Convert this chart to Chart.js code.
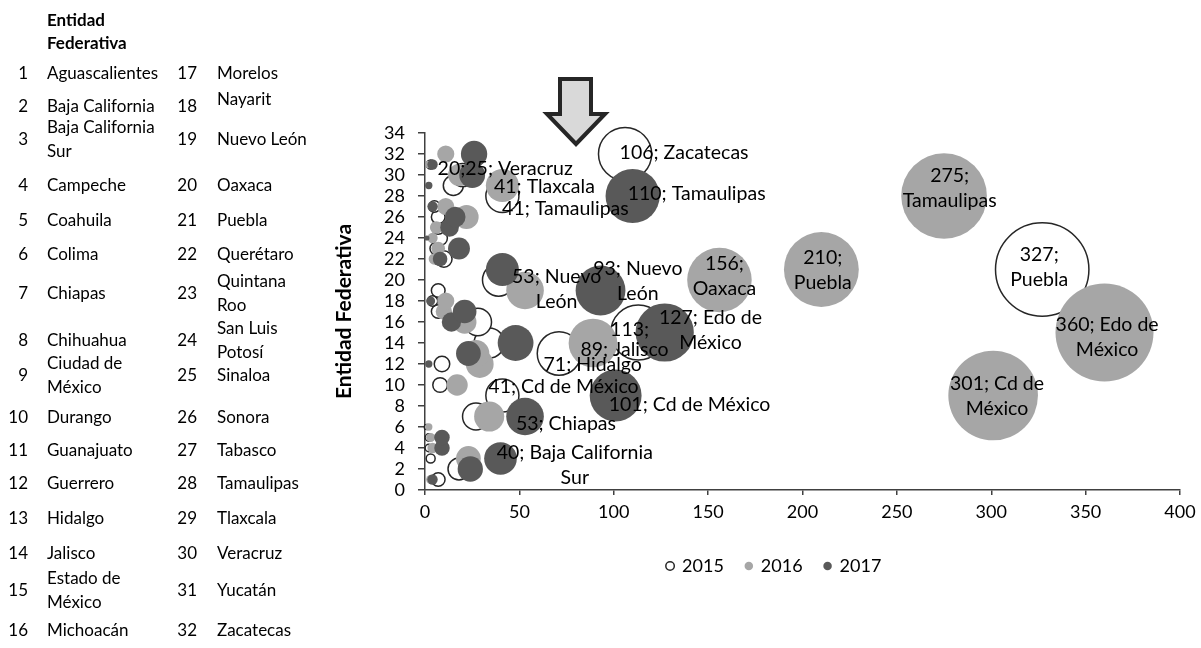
<!DOCTYPE html>
<html lang="es">
<head>
<meta charset="utf-8">
<title>Entidad Federativa 2015-2017</title>
<script src="https://cdn.jsdelivr.net/npm/chart.js@4.4.1/dist/chart.umd.min.js"></script>
<style>
  html, body { margin: 0; padding: 0; background: #ffffff; overflow: hidden; }
  body { width: 1201px; height: 648px; position: relative; font-family: Lato, "Noto Sans", sans-serif; color: #000; }
  #lienzo { position: absolute; left: 0; top: 0; width: 1229px; height: 648px; }
  #tabla { position: absolute; left: 0; top: 0; width: 320px; height: 648px; font-size: 17px; }
  #tabla div { position: absolute; transform: translateY(-50%); white-space: pre; line-height: 24px; }
  #tabla .num { text-align: right; width: 40px; }
  #tabla .cab { font-weight: bold; }
  #flecha { position: absolute; left: 0; top: 0; }
</style>
</head>
<body>
<div id="lienzo"><canvas id="grafica"></canvas></div>
<div id="tabla"></div>
<svg id="flecha" width="700" height="160">
  <polygon points="560,79 591,79 591,114 605,114 576,144 547,114 560,114"
           fill="#d9d9d9" stroke="#262626" stroke-width="4" stroke-linejoin="miter"/>
</svg>
<script>
// Entidades federativas, en el orden de su número (1-32)
const estados = [
  'Aguascalientes', 'Baja California', 'Baja California\nSur', 'Campeche',
  'Coahuila', 'Colima', 'Chiapas', 'Chihuahua',
  'Ciudad de\nMéxico', 'Durango', 'Guanajuato', 'Guerrero',
  'Hidalgo', 'Jalisco', 'Estado de\nMéxico', 'Michoacán',
  'Morelos', 'Nayarit', 'Nuevo León', 'Oaxaca',
  'Puebla', 'Querétaro', 'Quintana\nRoo', 'San Luis\nPotosí',
  'Sinaloa', 'Sonora', 'Tabasco', 'Tamaulipas',
  'Tlaxcala', 'Veracruz', 'Yucatán', 'Zacatecas'
];

// Casos por entidad (posición = número de entidad - 1)
const v2015 = [7, 18, 3, 2, 2, 1, 27, 0, 41, 8, 0, 9, 71, 34, 113, 28,
               7, 4, 7, 39, 327, 10, 6, 8, 7, 7, 5, 41, 15, 20, 3, 106];
const v2016 = [3, 0, 23, 4, 3, 2, 34, 0, 301, 17, 0, 29, 27, 89, 360, 21,
               10, 11, 53, 156, 210, 5, 7, 4, 6, 22, 11, 275, 41, 18, 2, 11];
const v2017 = [4, 24, 40, 9, 9, 0, 53, 0, 101, 0, 0, 2, 23, 48, 127, 14,
               21, 3, 93, 0, 41, 8, 18, 1, 13, 16, 4, 110, 2, 25, 4, 26];

const anios = ['2015', '2016', '2017'];
const series = { '2015': v2015, '2016': v2016, '2017': v2017 };

// Marcas de los ejes
const ticksX = [0, 50, 100, 150, 200, 250, 300, 350, 400];
const ticksY = [0, 2, 4, 6, 8, 10, 12, 14, 16, 18, 20, 22, 24, 26, 28, 30, 32, 34];

// Etiquetas de datos: [año, entidad, líneas, desplazamiento x, desplazamiento y]
// {v} = valor propio del punto; {2015}/{2017} = valor de ese año en la entidad
const etiquetas = [
  ['2015', 32, ['{v}; Zacatecas'], 59, -1],
  ['2017', 28, ['{v}; Tamaulipas'], 64, -2],
  ['2017', 30, ['{2015};{2017}; Veracruz'], 33, -6],
  ['2016', 29, ['{v}; Tlaxcala'], 42, 1.5],
  ['2015', 28, ['{v}; Tamaulipas'], 63, 12.6],
  ['2016', 19, ['{v}; Nuevo', 'León'], 31.6, -1.6],
  ['2017', 19, ['{v}; Nuevo', 'León'], 37.3, -9],
  ['2016', 20, ['{v};', 'Oaxaca'], 5, -3.5],
  ['2016', 21, ['{v};', 'Puebla'], 1.4, 0.7],
  ['2016', 28, ['{v};', 'Tamaulipas'], 5.6, -7.9],
  ['2015', 21, ['{v};', 'Puebla'], -3, -1.8],
  ['2016', 15, ['{v}; Edo de', 'México'], 2.6, 5.1],
  ['2016', 9, ['{v}; Cd de', 'México'], 3.9, 0.4],
  ['2017', 15, ['{v}; Edo de', 'México'], 45.7, -2.4],
  ['2015', 15, ['{v};'], -8.7, -2.4],
  ['2016', 14, ['{v}; Jalisco'], 31.5, 7.1],
  ['2015', 13, ['{v}; Hidalgo'], 33.7, 11.6],
  ['2015', 9, ['{v}; Cd de México'], 61.1, -8.7],
  ['2017', 9, ['{v}; Cd de México'], 73.9, 9.6],
  ['2017', 7, ['{v}; Chiapas'], 40.9, 6.9],
  ['2017', 3, ['{v}; Baja California', 'Sur'], 74.3, 7]
];

const FUENTE = 'Lato, "Noto Sans", sans-serif';
const NEGRO = '#000000';
const EJE = '#404040';

// Tabla de referencia de las entidades (dos columnas de 16)
const filasY = [72.7, 106, 139, 185, 220, 254, 293.3, 340, 375, 416.7, 450, 483.3, 518.3, 553.3, 590, 630];
const ajusteNombre = { 18: -7 };
(function construirTabla() {
  const tabla = document.getElementById('tabla');
  const agregar = (cls, texto, estilo) => {
    const d = document.createElement('div');
    d.className = cls;
    d.textContent = texto;
    Object.assign(d.style, estilo);
    tabla.appendChild(d);
  };
  agregar('cab', 'Entidad', { left: '47px', top: '20px' });
  agregar('cab', 'Federativa', { left: '47px', top: '43px' });
  estados.forEach((nombre, i) => {
    const n = i + 1;
    const col = i < 16 ? 0 : 1;
    const y = filasY[i % 16];
    const numDerecha = col === 0 ? 28 : 197;
    const nomIzq = col === 0 ? 47 : 217;
    agregar('num', String(n), { left: (numDerecha - 40) + 'px', top: y + 'px' });
    agregar('nom', nombre, { left: nomIzq + 'px', top: (y + (ajusteNombre[n] || 0)) + 'px' });
  });
})();

// Área de la burbuja proporcional al valor
const K_RADIO = 49 / Math.sqrt(360);
const puntos = (valores) => valores.map((v, i) => ({ x: v, y: i + 1, r: v > 0 ? K_RADIO * Math.sqrt(v) : 0 }));

const etiquetasPlugin = {
  id: 'etiquetasBurbujas',
  afterDatasetsDraw(chart) {
    const ctx = chart.ctx;
    ctx.save();
    ctx.font = '19.5px ' + FUENTE;
    ctx.fillStyle = NEGRO;
    ctx.textAlign = 'center';
    ctx.textBaseline = 'middle';
    const alto = 25;
    etiquetas.forEach(([anio, entidad, lineas, dx, dy]) => {
      const idx = anios.indexOf(anio);
      const el = chart.getDatasetMeta(idx).data[entidad - 1];
      const textos = lineas.map(t => t
        .replace('{v}', series[anio][entidad - 1])
        .replace(/\{(\d{4})\}/g, (m, a) => series[a][entidad - 1]));
      const y0 = el.y + dy - (textos.length - 1) * alto / 2;
      textos.forEach((t, k) => ctx.fillText(t, el.x + dx, y0 + k * alto));
    });
    ctx.restore();
  }
};

function dibujar() {
  const fuenteEje = { family: FUENTE, size: 18 };
  new Chart(document.getElementById('grafica'), {
    type: 'bubble',
    data: {
      datasets: [
        {
          label: anios[0], data: puntos(v2015), order: 3,
          backgroundColor: '#ffffff', borderColor: '#262626',
          borderWidth: (c) => (c.raw && c.raw.r > 0 ? 1.5 : 0)
        },
        {
          label: anios[1], data: puntos(v2016), order: 2,
          backgroundColor: '#a6a6a6', borderColor: '#a6a6a6', borderWidth: 0
        },
        {
          label: anios[2], data: puntos(v2017), order: 1,
          backgroundColor: '#595959', borderColor: '#595959', borderWidth: 0
        }
      ]
    },
    options: {
      responsive: true,
      maintainAspectRatio: false,
      animation: false,
      events: [],
      layout: { padding: { left: 332, right: 12.6, top: 133, bottom: 63 } },
      scales: {
        x: {
          type: 'linear', min: 0, max: 400,
          afterBuildTicks: (ax) => { ax.ticks = ticksX.map(v => ({ value: v })); },
          afterFit: (ax) => { ax.height = 45; },
          ticks: { font: fuenteEje, color: NEGRO, padding: 6, autoSkip: false, maxRotation: 0 },
          grid: { drawOnChartArea: false, drawTicks: true, tickLength: 5, color: EJE, lineWidth: 1.5 },
          border: { display: true, color: EJE, width: 1.5 }
        },
        y: {
          type: 'linear', min: 0, max: 34,
          afterBuildTicks: (ax) => { ax.ticks = ticksY.map(v => ({ value: v })); },
          afterFit: (ax) => { ax.width = 93; },
          ticks: { font: fuenteEje, color: NEGRO, padding: 13, autoSkip: false },
          grid: { drawOnChartArea: false, drawTicks: true, tickLength: 7, color: EJE, lineWidth: 1.5 },
          border: { display: true, color: EJE, width: 1.5 },
          title: {
            display: true, text: 'Entidad Federativa', color: NEGRO,
            font: { family: FUENTE, size: 21, weight: 'bold' },
            padding: { top: 0, bottom: 0 }
          }
        }
      },
      plugins: {
        legend: {
          position: 'bottom',
          labels: {
            usePointStyle: true, pointStyle: 'circle',
            boxWidth: 6, boxHeight: 6, padding: 22,
            font: fuenteEje, color: NEGRO,
            sort: (a, b) => a.datasetIndex - b.datasetIndex
          }
        },
        tooltip: { enabled: false }
      },
      clip: false
    },
    plugins: [etiquetasPlugin]
  });
}

Promise.all([
  document.fonts.load('18px Lato'),
  document.fonts.load('bold 21px Lato'),
  document.fonts.load('17px Lato')
]).then(dibujar, dibujar);
</script>
</body>
</html>
